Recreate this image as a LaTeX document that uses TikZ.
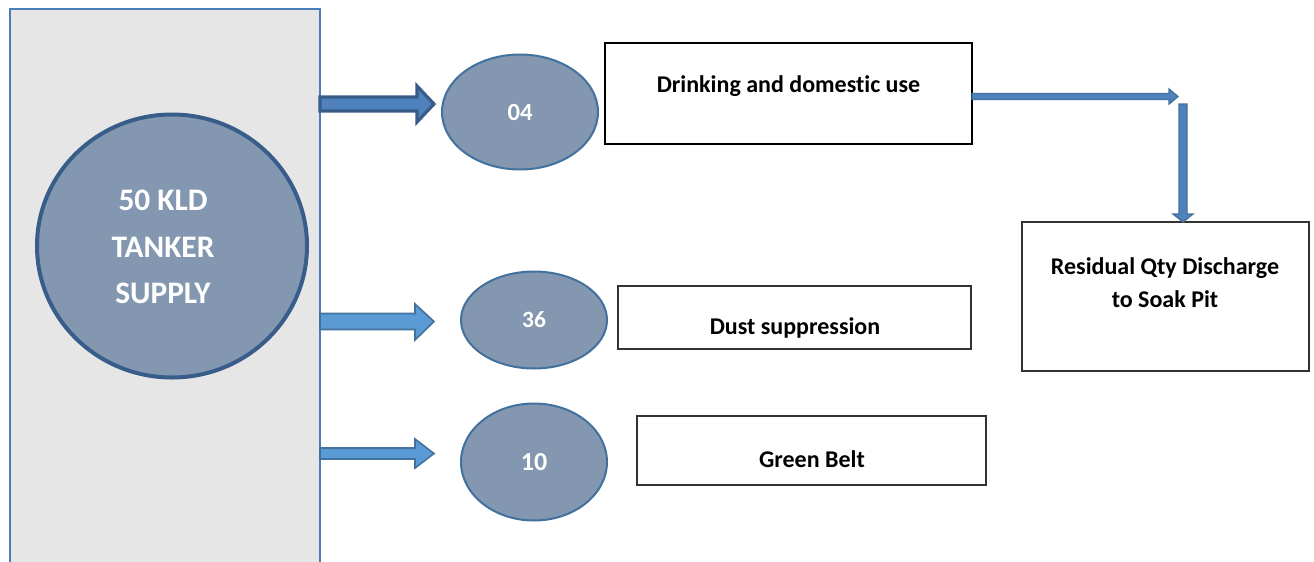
\documentclass[tikz,border=0pt]{standalone}
\usepackage{fontspec}
\setmainfont[Ligatures=NoCommon]{Carlito}
\usetikzlibrary{shapes.geometric}
\definecolor{panelfill}{HTML}{E6E6E6}
\definecolor{panelline}{HTML}{4A7EBB}
\definecolor{bluegray}{HTML}{8497B0}
\definecolor{darkline}{HTML}{385D8A}
\definecolor{midline}{HTML}{41719C}
\definecolor{arrowdark}{HTML}{4F81BD}
\definecolor{arrowlight}{HTML}{5B9BD5}
\tikzset{
  tank/.style={ellipse, draw=darkline, line width=3pt, fill=bluegray, inner sep=0pt},
  qty/.style={ellipse, draw=midline, line width=1.5pt, fill=bluegray, inner sep=0pt},
  qtytext/.style={text=white, inner sep=0pt},
  usebox/.style={rectangle, draw=black, inner sep=0pt},
  boxtext/.style={font=\fontsize{18}{24}\selectfont\bfseries, align=center, inner sep=0pt},
  fatarrow/.style={fill=arrowdark, draw=darkline, line width=2.4pt, line join=miter},
  lightarrow/.style={fill=arrowlight, draw=midline, line width=1.2pt, line join=miter},
  thinarrow/.style={fill=arrowdark, draw=midline, line width=1pt, line join=miter}
}
\begin{document}
\begin{tikzpicture}[x=0.75pt,y=-0.75pt]
\useasboundingbox (0,0) rectangle (1314,561);
% left panel
\node[rectangle, draw=panelline, line width=1.5pt, fill=panelfill, minimum width=232.5pt, minimum height=443.25pt, inner sep=0pt] (panel) at (165,304.5) {};
% tanker circle
\node[tank, minimum width=202.5pt, minimum height=197.25pt] (tank) at (172,246) {};
\node[text=white, font=\fontsize{23.5}{35}\selectfont\bfseries, align=center, inner sep=0pt] (tanktext) at (163,247) {50 KLD\\TANKER\\SUPPLY};
% quantity ellipses
\node[qty, minimum width=117pt, minimum height=86.25pt] (q04) at (520,112) {};
\node[qtytext, font=\fontsize{18.5}{20}\selectfont\bfseries] (t04) at (q04.center) {04};
\node[qty, minimum width=109.5pt, minimum height=72.75pt] (q36) at (534,320) {};
\node[qtytext, font=\fontsize{17.5}{20}\selectfont\bfseries] (t36) at (q36.center) {36};
\node[qty, minimum width=109.5pt, minimum height=87.75pt] (q10) at (534,462) {};
\node[qtytext, font=\fontsize{19.5}{20}\selectfont\bfseries] (t10) at (q10.center) {10};
% use boxes
\node[usebox, line width=1.5pt, minimum width=275.25pt, minimum height=75.75pt] (drink) at (788.5,93.5) {};
\node[boxtext] (drinktext) at (788.5,86) {Drinking and domestic use};
\node[usebox, draw=black!80, line width=0.8pt, minimum width=264.75pt, minimum height=47.25pt] (dust) at (794.5,317.5) {};
\node[boxtext] (dusttext) at (795,328) {Dust suppression};
\node[usebox, draw=black!80, line width=0.8pt, minimum width=261.75pt, minimum height=51.75pt] (green) at (811.5,450.5) {};
\node[boxtext] (greentext) at (812,459) {Green Belt};
\node[usebox, draw=black!80, line width=0.8pt, minimum width=215.25pt, minimum height=111.75pt] (resid) at (1165.5,296.5) {};
\node[boxtext, font=\fontsize{18}{24.75}\selectfont\bfseries] (residtext) at (1165,282.5) {Residual Qty Discharge\\to Soak Pit};
% block arrows from panel
\draw[fatarrow] (320,97) -- (417,97) -- (417,86) -- (434,104) -- (417,122) -- (417,111) -- (320,111) -- cycle;
\draw[lightarrow] (320,313.5) -- (415,313.5) -- (415,304) -- (434,321.5) -- (415,340) -- (415,329.5) -- (320,329.5) -- cycle;
\draw[lightarrow] (320,448) -- (415,448) -- (415,439) -- (434,453.5) -- (415,468) -- (415,459) -- (320,459) -- cycle;
% drinking -> residual
\draw[thinarrow] (972,93.5) -- (1169,93.5) -- (1169,89) -- (1178,96.5) -- (1169,104) -- (1169,99.5) -- (972,99.5) -- cycle;
\draw[thinarrow] (1179,104) -- (1187,104) -- (1187,214) -- (1193,214) -- (1183,222) -- (1173,214) -- (1179,214) -- cycle;
\end{tikzpicture}
\end{document}
